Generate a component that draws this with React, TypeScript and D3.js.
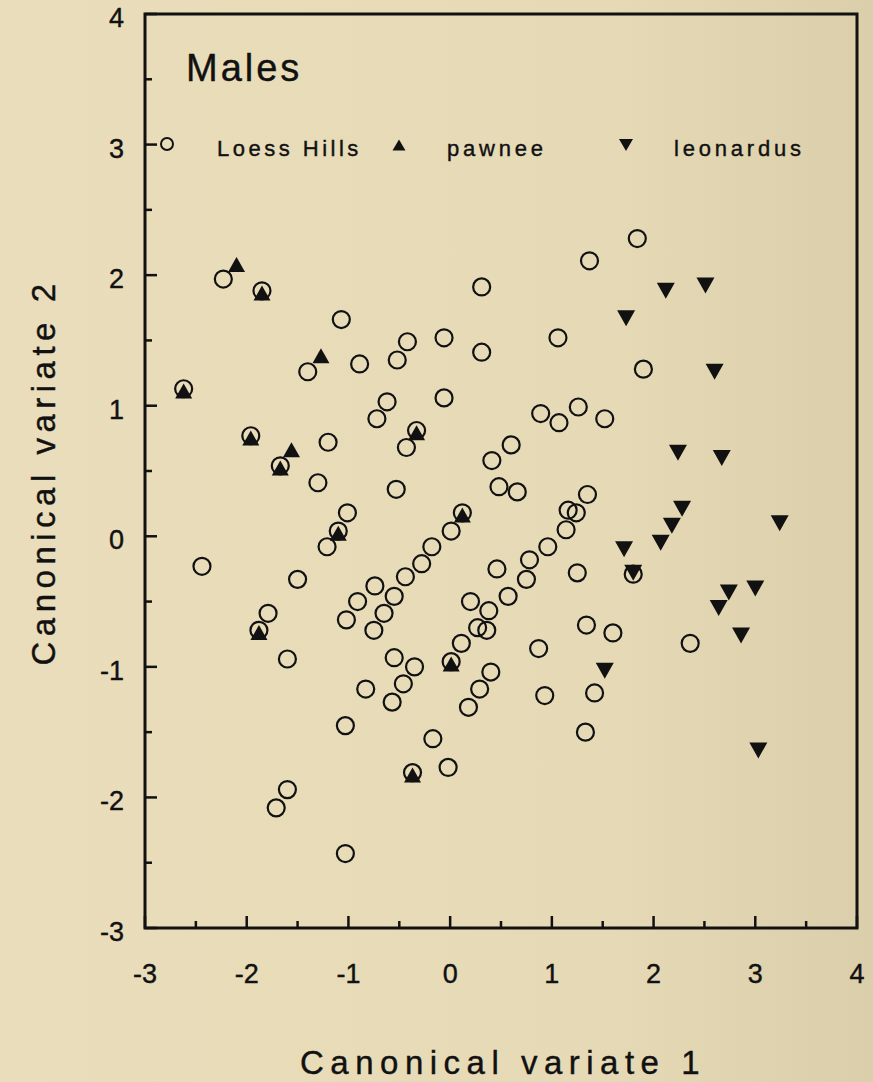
import React from "react";
import * as d3 from "d3";

// Loess Hills (open circles)
const loessX = [
  -2.23, -1.85, 0.31, -1.07, -1.40, -0.89, -0.42, -0.52, -0.06, 0.31,
  -2.62, -0.62, -0.72, -0.06, -0.33, -0.43, -1.96, -1.67, -1.20, -1.30,
  -0.53, 0.41, 0.48, -1.01, -1.10, -1.21, 0.12, 0.01, -0.18, -0.28,
  -2.44, -1.50, -0.74, -0.44, 0.46, 1.06, 1.90, 0.89, 1.07, 1.26,
  1.52, 0.60, 0.66, 1.35, 1.16, 1.24, 1.14, 0.96, 0.78, 0.75,
  1.25, 1.80, -1.79, -1.88, -1.60, -1.02, -0.91, -0.65, -0.75, -0.55,
  -0.55, -0.35, -0.83, -0.46, -0.57, -1.03, -0.17, -0.37, -0.02, -1.60,
  -1.71, -1.03, 0.01, 0.11, 0.20, 0.27, 0.36, 0.38, 0.40, 0.29,
  0.18, 0.57, 1.34, 1.60, 2.36, 0.87, 0.93, 1.42, 1.33, 1.37,
  1.84,
];
const loessY = [
  1.97, 1.88, 1.91, 1.66, 1.26, 1.32, 1.49, 1.35, 1.52, 1.41,
  1.13, 1.03, 0.90, 1.06, 0.81, 0.68, 0.77, 0.54, 0.72, 0.41,
  0.36, 0.58, 0.38, 0.18, 0.04, -0.08, 0.18, 0.04, -0.08, -0.21,
  -0.23, -0.33, -0.38, -0.31, -0.25, 1.52, 1.28, 0.94, 0.87, 0.99,
  0.90, 0.70, 0.34, 0.32, 0.20, 0.18, 0.05, -0.08, -0.18, -0.33,
  -0.28, -0.29, -0.59, -0.72, -0.94, -0.64, -0.50, -0.59, -0.72, -0.46,
  -0.93, -1.00, -1.17, -1.13, -1.27, -1.45, -1.55, -1.81, -1.77, -1.94,
  -2.08, -2.43, -0.96, -0.82, -0.50, -0.70, -0.72, -0.57, -1.04, -1.17,
  -1.31, -0.46, -0.68, -0.74, -0.82, -0.86, -1.22, -1.20, -1.50, 2.11,
  2.28,
];

// pawnee (filled up triangles)
const pawneeX = [-2.10, -1.85, -1.27, -2.62, -0.33, -1.96, -1.56, -1.67, -1.10, 0.12, -1.88, 0.01, -0.37];
const pawneeY = [2.09, 1.87, 1.39, 1.12, 0.80, 0.76, 0.67, 0.53, 0.03, 0.17, -0.73, -0.97, -1.82];

// leonardus (filled down triangles)
const leoX = [2.12, 2.51, 1.73, 2.60, 2.24, 2.67, 2.28, 2.18, 2.07, 3.24, 1.71, 1.80, 2.74, 3.00, 2.64, 2.86, 1.52, 3.03];
const leoY = [1.88, 1.92, 1.67, 1.26, 0.64, 0.60, 0.21, 0.08, -0.05, 0.10, -0.10, -0.28, -0.43, -0.40, -0.55, -0.76, -1.03, -1.64];

const xTickLabels = [-3, -2, -1, 0, 1, 2, 3, 4];
const yTickLabels = [-3, -2, -1, 0, 1, 2, 3, 4];
const legendLabels = ["Loess Hills", "pawnee", "leonardus"];

const FONT = "'Liberation Sans', Arial, Helvetica, sans-serif";

export default function App() {
  const W = 873, H = 1082;
  const left = 145, right = 857, top = 14, bottom = 928;
  const x = d3.scaleLinear().domain([-3, 4]).range([left, right]);
  const y = d3.scaleLinear().domain([-3, 4]).range([bottom, top]);

  const minor = d3.range(-3, 4.01, 0.5);

  const triUp = (cx: number, cy: number, w: number, h: number) =>
    `M${cx - w / 2},${cy + h / 2}L${cx + w / 2},${cy + h / 2}L${cx},${cy - h / 2}Z`;
  const triDown = (cx: number, cy: number, w: number, h: number) =>
    `M${cx - w / 2},${cy - h / 2}L${cx + w / 2},${cy - h / 2}L${cx},${cy + h / 2}Z`;

  const txt = { fill: "#111", stroke: "#111", strokeWidth: 0.4 };

  return (
    <svg width={W} height={H} style={{ position: "absolute", left: 0, top: 0 }} fontFamily={FONT}>
      <defs>
        <linearGradient id="bg" x1="0" x2="1" y1="0" y2="0">
          <stop offset="0" stopColor="#e9ddbb" />
          <stop offset="0.7" stopColor="#e6dab6" />
          <stop offset="1" stopColor="#dbcfab" />
        </linearGradient>
      </defs>
      <rect width={W} height={H} fill="url(#bg)" />

      {/* frame */}
      <rect x={left} y={top} width={right - left} height={bottom - top} fill="none" stroke="#111" strokeWidth={3} />

      {/* ticks */}
      {minor.map((v, i) => {
        const major = Math.abs(v - Math.round(v)) < 1e-6;
        const len = major ? 12 : 7;
        return (
          <g key={"t" + i}>
            <line x1={x(v)} x2={x(v)} y1={bottom} y2={bottom - len} stroke="#111" strokeWidth={2.5} />
            <line x1={left} x2={left + len} y1={y(v)} y2={y(v)} stroke="#111" strokeWidth={2.5} />
          </g>
        );
      })}

      {/* tick labels */}
      {xTickLabels.map((v) => (
        <text key={"xl" + v} x={x(v)} y={983} fontSize={27} textAnchor="middle" {...txt}>
          {String(v)}
        </text>
      ))}
      {yTickLabels.map((v) => (
        <text key={"yl" + v} x={124} y={y(v) + 13} fontSize={27} textAnchor="end" {...txt}>
          {String(v)}
        </text>
      ))}

      {/* axis titles */}
      <text x={503} y={1074} fontSize={33} textAnchor="middle" letterSpacing={6.5} {...txt}>
        Canonical variate 1
      </text>
      <text
        transform={`translate(55,472) rotate(-90)`}
        fontSize={33}
        textAnchor="middle"
        letterSpacing={5.5}
        {...txt}
      >
        Canonical variate 2
      </text>

      {/* panel title */}
      <text x={186} y={81} fontSize={38} letterSpacing={3} {...txt}>
        Males
      </text>

      {/* legend */}
      <circle cx={167} cy={144} r={6} fill="none" stroke="#111" strokeWidth={2} />
      <text x={217} y={156} fontSize={22} letterSpacing={3.5} {...txt}>{legendLabels[0]}</text>
      <path d={triUp(399, 145, 13, 11)} fill="#111" />
      <text x={447} y={156} fontSize={22} letterSpacing={3.8} {...txt}>{legendLabels[1]}</text>
      <path d={triDown(626, 145, 14, 12)} fill="#111" />
      <text x={674} y={156} fontSize={22} letterSpacing={3.8} {...txt}>{legendLabels[2]}</text>

      {/* Loess Hills */}
      {loessX.map((v, i) => (
        <circle key={"c" + i} cx={x(v)} cy={y(loessY[i])} r={8.5} fill="none" stroke="#111" strokeWidth={2.2} />
      ))}
      {/* pawnee */}
      {pawneeX.map((v, i) => (
        <path key={"p" + i} d={triUp(x(v), y(pawneeY[i]) + 1, 17, 15)} fill="#111" />
      ))}
      {/* leonardus */}
      {leoX.map((v, i) => (
        <path key={"l" + i} d={triDown(x(v), y(leoY[i]), 18, 16)} fill="#111" />
      ))}
    </svg>
  );
}
